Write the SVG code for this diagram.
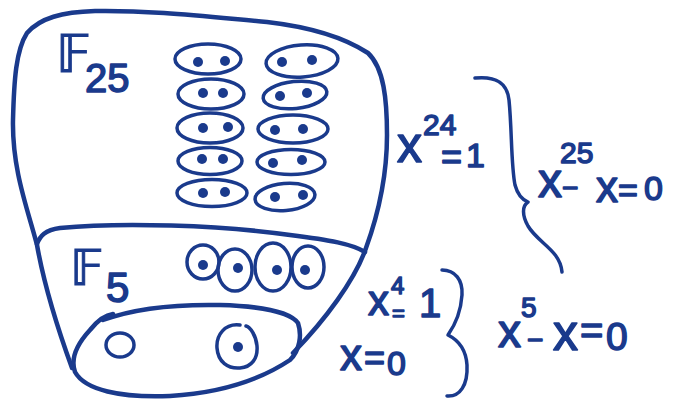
<svg xmlns="http://www.w3.org/2000/svg" width="675" height="401" viewBox="0 0 675 401">
<style>
.ink{fill:none;stroke:#1a3a8c;stroke-linecap:round;stroke-linejoin:round}
.big{stroke-width:4.5}
.el{stroke-width:3.5}
.dot{fill:#1a3a8c}
.t{font-family:"Liberation Sans","DejaVu Sans",sans-serif;fill:#1a3a8c;stroke:#1a3a8c;stroke-width:1.5;stroke-linejoin:round}
.bb{font-family:"DejaVu Sans","Noto Sans",sans-serif;fill:#1a3a8c;stroke:#1a3a8c;stroke-width:1}
</style>
<rect width="675" height="401" fill="#ffffff"/>
<g id="field25">
<path class="ink big" d="M72,368 C60,335 45,290 37,245 C28,210 12,170 13,120 C14,80 16,50 27,33 C40,18 62,12 95,11 C150,10 210,17 267,22 C310,27 345,38 368,53 C384,68 387,100 387,135 C387,175 378,215 366,248 C355,280 325,320 293,353"/>
<text class="bb" x="56" y="72" font-size="52">𝔽</text>
<text class="t" x="85" y="92" font-size="40">25</text>
<g id="pairs">
<ellipse class="ink el" cx="208" cy="59" rx="33" ry="15"/>
<ellipse class="ink el" cx="211" cy="94" rx="33" ry="15"/>
<ellipse class="ink el" cx="210" cy="128" rx="33" ry="15"/>
<ellipse class="ink el" cx="210" cy="161" rx="32" ry="13.5"/>
<ellipse class="ink el" cx="212" cy="193" rx="35" ry="13.5"/>
<ellipse class="ink el" cx="302" cy="61" rx="36" ry="16" transform="rotate(-4 302 61)"/>
<ellipse class="ink el" cx="295" cy="95" rx="32" ry="13.5" transform="rotate(-6 295 95)"/>
<ellipse class="ink el" cx="293" cy="129" rx="35" ry="14"/>
<ellipse class="ink el" cx="291" cy="162" rx="34" ry="12.5"/>
<ellipse class="ink el" cx="285" cy="197" rx="30" ry="13.5" transform="rotate(-5 285 197)"/>
<circle class="dot" cx="198" cy="62" r="5"/><circle class="dot" cx="225" cy="61" r="5"/>
<circle class="dot" cx="203" cy="93" r="5"/><circle class="dot" cx="223" cy="93" r="5"/>
<circle class="dot" cx="203" cy="128" r="5"/><circle class="dot" cx="228" cy="127" r="5"/>
<circle class="dot" cx="202" cy="159" r="5"/><circle class="dot" cx="223" cy="159" r="5"/>
<circle class="dot" cx="203" cy="193" r="5"/><circle class="dot" cx="225" cy="192" r="5"/>
<circle class="dot" cx="282" cy="62" r="5"/><circle class="dot" cx="312" cy="60" r="5"/>
<circle class="dot" cx="280" cy="96" r="5"/><circle class="dot" cx="307" cy="93" r="5"/>
<circle class="dot" cx="275" cy="130" r="5"/><circle class="dot" cx="303" cy="129" r="5"/>
<circle class="dot" cx="273" cy="163" r="5"/><circle class="dot" cx="302" cy="160" r="5"/>
<circle class="dot" cx="275" cy="197" r="5"/><circle class="dot" cx="303" cy="195" r="5"/>
</g>
</g>
<g id="field5">
<path class="ink big" d="M37,244 C40,236 45,230 60,228 C120,222 220,225 290,235 C330,240 352,244 365,252"/>
<text class="bb" x="70" y="285" font-size="50">𝔽</text>
<text class="t" x="106" y="302" font-size="42">5</text>
<ellipse class="ink el" cx="203" cy="262" rx="16" ry="17"/>
<ellipse class="ink el" cx="235" cy="270" rx="17" ry="21"/>
<ellipse class="ink el" cx="273" cy="267" rx="18" ry="24"/>
<ellipse class="ink el" cx="308" cy="267" rx="16" ry="21"/>
<circle class="dot" cx="203" cy="265" r="5"/>
<circle class="dot" cx="238" cy="268" r="5"/>
<circle class="dot" cx="277" cy="270" r="5"/>
<circle class="dot" cx="305" cy="270" r="5"/>
</g>
<g id="zero-one">
<path class="ink big" d="M113,314 C105,315 98,320 90,330 C78,343 70,358 75,372 C85,390 120,398 170,396 C220,393 260,380 290,360 C300,350 302,335 298,323 C290,312 260,306 220,305 C170,304 130,310 103,320"/>
<ellipse class="ink el" cx="120" cy="345" rx="14" ry="12"/>
<path class="ink el" d="M240,325 C225,323 216,335 217,348 C218,362 228,369 240,368 C252,367 258,358 257,346 C256,335 250,327 246,326"/>
<circle class="dot" cx="238" cy="347" r="5"/>
</g>
<g id="connectors">
<path class="ink el" d="M475,78 C495,76 507,82 509,100 C512,130 511,165 515,185 C518,196 523,200 528,202 C522,206 522,215 528,226 C538,243 560,250 562,272"/>
<path class="ink el" d="M442,270 C455,270 463,280 462,295 C461,310 455,325 448,335 C458,340 466,350 467,365 C468,385 460,397 447,396"/>
</g>
<g id="labels">
<text class="t"><tspan x="397" y="162" font-size="50">x</tspan><tspan x="423" y="135" font-size="30">24</tspan><tspan x="441" y="169" font-size="36">=</tspan><tspan x="466" y="167" font-size="34">1</tspan></text>
<text class="t"><tspan x="538" y="197" font-size="48">x</tspan><tspan x="560" y="163" font-size="30">25</tspan><tspan x="562" y="197" font-size="28">−</tspan><tspan x="596" y="202" font-size="44">x</tspan><tspan x="618" y="202" font-size="34">=</tspan><tspan x="644" y="200" font-size="34">0</tspan></text>
<text class="t"><tspan x="368" y="315" font-size="42">x</tspan><tspan x="391" y="294" font-size="24">4</tspan><tspan x="392" y="321" font-size="22">=</tspan><tspan x="419" y="317" font-size="40">1</tspan></text>
<text class="t"><tspan x="340" y="370" font-size="44">x</tspan><tspan x="364" y="370" font-size="36">=</tspan><tspan x="387" y="375" font-size="34">0</tspan></text>
<text class="t"><tspan x="498" y="347" font-size="46">x</tspan><tspan x="521" y="317" font-size="28">5</tspan><tspan x="527" y="349" font-size="28">−</tspan><tspan x="553" y="350" font-size="50">x</tspan><tspan x="580" y="344" font-size="40">=</tspan><tspan x="606" y="350" font-size="39">0</tspan></text>
</g>
</svg>
